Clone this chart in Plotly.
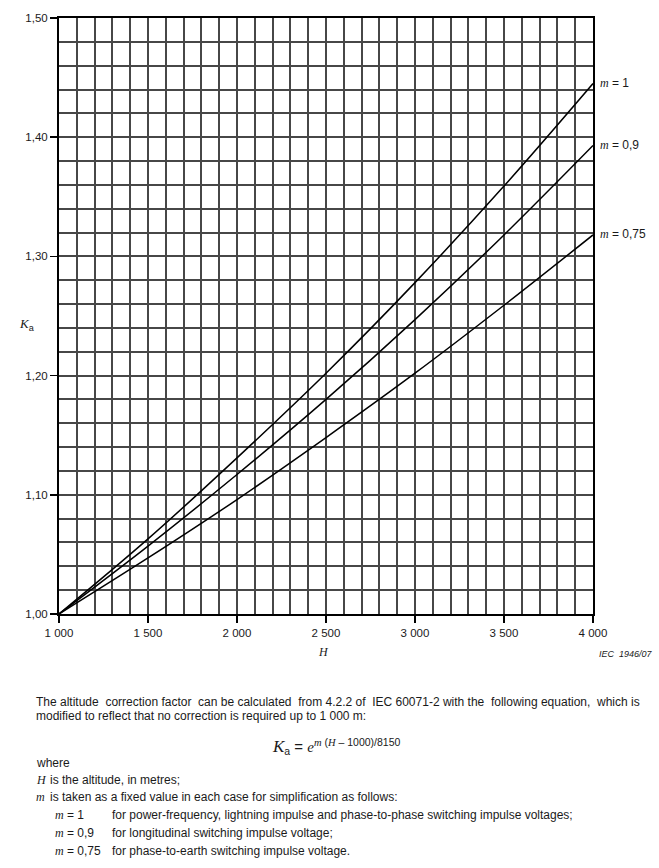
"""
Altitude correction factor Ka versus altitude H, IEC figure recreation.
"""

import plotly.graph_objects as go

# ── Data ──────────────────────────────────────────────────────────────────────

altitude = [1000, 1500, 2000, 2500, 3000, 3500, 4000]

ka_m_1 = [1.000, 1.063, 1.131, 1.202, 1.278, 1.359, 1.445]
ka_m_09 = [1.000, 1.057, 1.117, 1.180, 1.247, 1.318, 1.393]
ka_m_075 = [1.000, 1.047, 1.096, 1.148, 1.202, 1.259, 1.318]

curve_labels = ["1", "0,9", "0,75"]

x_tick_values = [1000, 1500, 2000, 2500, 3000, 3500, 4000]
x_tick_labels = ["1 000", "1 500", "2 000", "2 500", "3 000", "3 500", "4 000"]
y_tick_values = [1.00, 1.10, 1.20, 1.30, 1.40, 1.50]
y_tick_labels = ["1,00", "1,10", "1,20", "1,30", "1,40", "1,50"]

# ── Page geometry (pixels) ────────────────────────────────────────────────────

W, H_PX = 659, 868
L, R, T, B = 59, 593, 13, 614

SANS = "Liberation Sans, Arial, sans-serif"
SERIF = "Liberation Serif, Times New Roman, serif"
GRID = "#474747"
INK = "#1a1a1a"
TXT = 12


def px(x):
    return (x - L) / (R - L)


def py(y):
    return (B - y) / (B - T)


def it(s):
    return f"<span style='font-family:{SERIF}'><i>{s}</i></span>"


fig = go.Figure()

for ys, lab in zip([ka_m_1, ka_m_09, ka_m_075], curve_labels):
    fig.add_trace(go.Scatter(
        x=altitude, y=ys, mode="lines",
        line=dict(color="#000000", width=1.5, shape="spline"),
        hoverinfo="skip", showlegend=False,
    ))
    fig.add_annotation(
        x=altitude[-1], y=ys[-1], xref="x", yref="y",
        text=f"{it('m')} = {lab}", showarrow=False,
        xanchor="left", yanchor="middle", xshift=5, yshift=1,
        font=dict(family=SANS, size=12, color=INK),
    )

fig.update_xaxes(
    range=[1000, 4000],
    tickmode="array", tickvals=x_tick_values, ticktext=x_tick_labels,
    ticks="outside", ticklen=7, tickwidth=1.5, tickcolor="#000",
    showgrid=True, gridcolor=GRID, gridwidth=2,
    minor=dict(dtick=100, tick0=1000, showgrid=True, gridcolor=GRID, gridwidth=2, ticks=""),
    showline=True, linecolor="#000", linewidth=2, mirror=True,
    zeroline=False, fixedrange=True,
    tickfont=dict(family=SANS, size=11.5, color=INK),
)
fig.update_yaxes(
    range=[1.0, 1.5],
    tickmode="array", tickvals=y_tick_values, ticktext=y_tick_labels,
    ticks="outside", ticklen=7, tickwidth=1.5, tickcolor="#000",
    showgrid=True, gridcolor=GRID, gridwidth=2,
    minor=dict(dtick=0.02, tick0=1.0, showgrid=True, gridcolor=GRID, gridwidth=2, ticks=""),
    showline=True, linecolor="#000", linewidth=2, mirror=True,
    zeroline=False, fixedrange=True,
    tickfont=dict(family=SANS, size=11.5, color=INK),
)

# ── Axis titles and figure texts ──────────────────────────────────────────────

notes = [
    # (x px, y px, html, size)
    (316, 652, it("H"), 12),
    (17, 322, f"{it('K')}<sub>a</sub>", 13),
    (597, 654, "<i>IEC  1946/07</i>", 9),
    (34, 703, "The altitude  correction factor  can be calculated  from 4.2.2 of  IEC 60071-2 with the  following equation,  which is", TXT),
    (34, 717, "modified to reflect that no correction is required up to 1 000 m:", TXT),
    (34, 764, "where", TXT),
    (34, 781, it("H"), TXT),
    (48, 781, "is the altitude, in metres;", TXT),
    (34, 799, it("m"), TXT),
    (48, 799, "is taken as a fixed value in each case for simplification as follows:", TXT),
    (53, 817, f"{it('m')} = 1", TXT),
    (110, 817, "for power-frequency, lightning impulse and phase-to-phase switching impulse voltages;", TXT),
    (53, 835, f"{it('m')} = 0,9", TXT),
    (110, 835, "for longitudinal switching impulse voltage;", TXT),
    (53, 853, f"{it('m')} = 0,75", TXT),
    (110, 853, "for phase-to-earth switching impulse voltage.", TXT),
]
for x, y, txt, size in notes:
    fig.add_annotation(
        x=px(x), y=py(y), xref="paper", yref="paper",
        text=txt, showarrow=False, xanchor="left", yanchor="middle",
        font=dict(family=SANS, size=size, color=INK),
    )

# equation
fig.add_annotation(
    x=px(270), y=py(748), xref="paper", yref="paper", showarrow=False,
    xanchor="left", yanchor="middle",
    text=(f"<span style='font-size:17px'>{it('K')}</span><sub>a</sub> = "
          f"{it('e')}<sup>{it('m')} ({it('H')} – 1000)/8150</sup>"),
    font=dict(family=SANS, size=15, color=INK),
)

fig.update_layout(
    width=W, height=H_PX,
    margin=dict(l=L, r=W - R, t=T, b=H_PX - B),
    paper_bgcolor="#ffffff", plot_bgcolor="#ffffff",
    showlegend=False,
    font=dict(family=SANS, color=INK),
)

fig.write_html("out.html", config={"displayModeBar": False, "staticPlot": True})

# drop the browser's default body margin so the figure sits at the page corner
with open("out.html", "r", encoding="utf-8") as f:
    html = f.read()
html = html.replace("<head>", "<head><style>body{margin:0;overflow:hidden}</style>", 1)
with open("out.html", "w", encoding="utf-8") as f:
    f.write(html)
